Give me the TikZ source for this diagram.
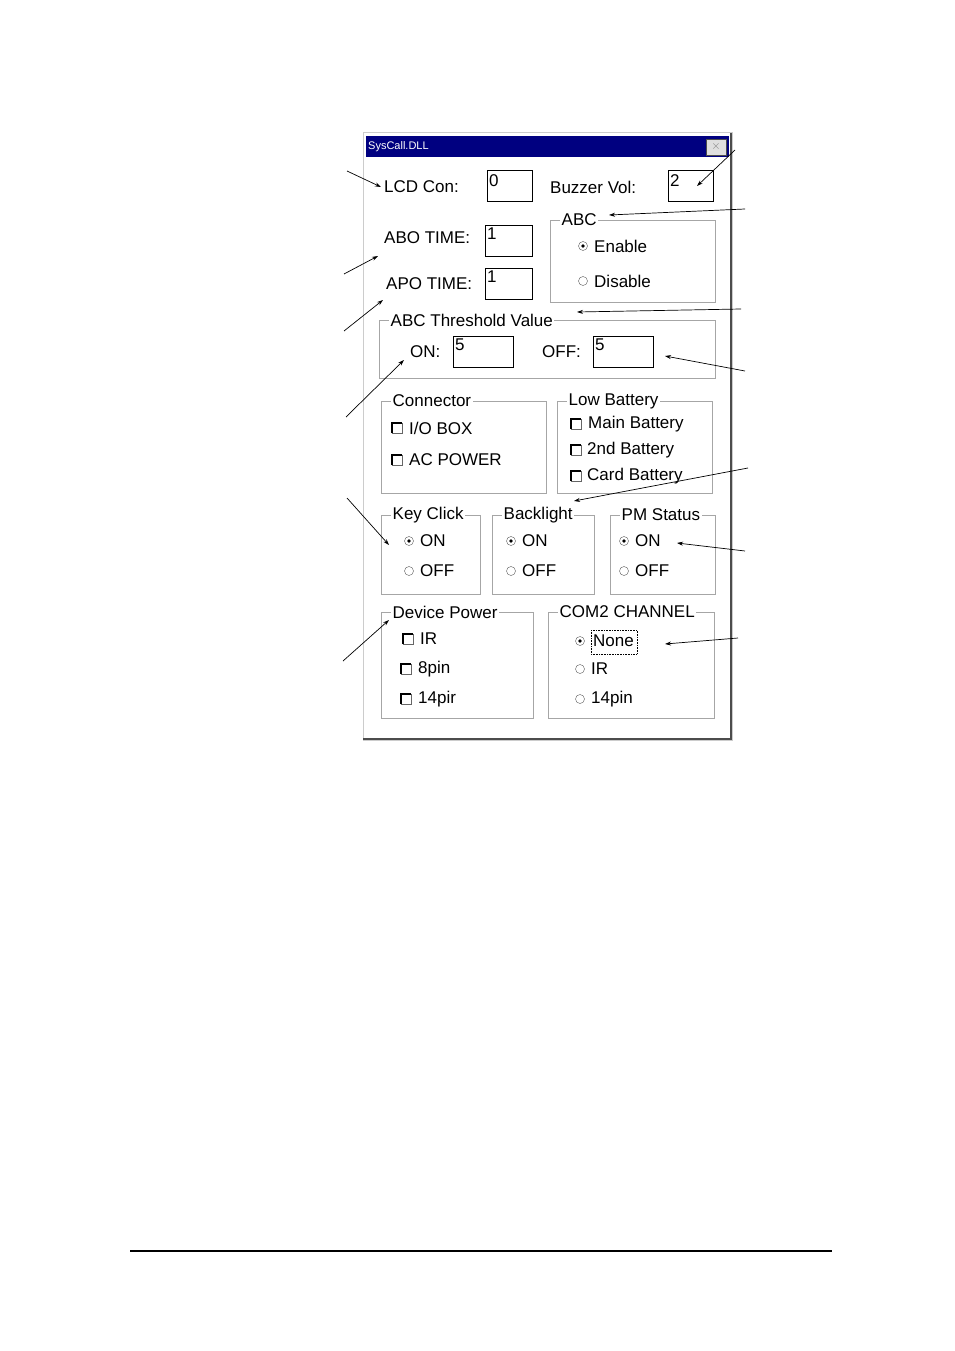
\documentclass[tikz,border=0pt]{standalone}
\usepackage{fontspec}
\setmainfont{Liberation Sans}
\usetikzlibrary{arrows.meta}
\newcommand\grpbox[6]{%
  \draw[grpline] (#1,#2) rectangle (#3,#4);
  \node[grplabel] (#6) at (#1+10,#2) {#5};}
\newcommand\radiobtn[3]{%
  \draw[gray!70!black,fill=white] (#1,#2) circle (4.5);
  \ifnum#3=1 \fill (#1,#2) circle (1.8);\fi}
\newcommand\chkbox[2]{%
  \draw[gray!80!black,fill=white] (#1-5,#2-5) rectangle (#1+5,#2+5);
  \draw[black,line width=1.2] (#1-5,#2+5) -- (#1-5,#2-5) -- (#1+5,#2-5);}
\begin{document}
\begin{tikzpicture}[x=1pt,y=-1pt,
  lbl/.style={anchor=west,inner sep=0,font=\fontsize{17}{17}\selectfont},
  grpline/.style={draw=gray!70,line width=1},
  grplabel/.style={anchor=west,inner sep=1.5,fill=white,font=\fontsize{17}{17}\selectfont},
  editbox/.style={draw,line width=1,fill=white},
  arr/.style={-{Stealth[length=6pt,width=4pt]},line width=0.7}]
\useasboundingbox (0,0) rectangle (954,1351);
% window
\draw[gray!40,line width=1,fill=white] (363,133) rectangle (732,740);
\draw[gray!60!black,line width=2] (731,133) -- (731,739) -- (363,739);
\fill[blue!50!black] (366,136) rectangle (729,157);
\node[anchor=west,text=white,inner sep=0,font=\fontsize{11}{11}\selectfont] (title) at (368,147) {SysCall.DLL};
\draw[gray!60!black,fill=gray!25] (706,139) rectangle (726,155);
\node[inner sep=0,font=\fontsize{12}{12}\selectfont,text=gray] (close) at (716,147) {$\times$};
% top row
\node[lbl] (lcd) at (384,187) {LCD Con:};
\draw[editbox] (487,171) rectangle (532,202);
\node[lbl,anchor=north west] (lcdv) at (489,174) {0};
\node[lbl] (buz) at (550,187) {Buzzer Vol:};
\draw[editbox] (668,171) rectangle (713,202);
\node[lbl,anchor=north west] (buzv) at (670,174) {2};
% ABC
\grpbox{550}{220}{715}{302}{ABC}{abc}
\radiobtn{583}{246}{1}\node[lbl] (en) at (594,246) {Enable};
\radiobtn{583}{281}{0}\node[lbl] (dis) at (594,281) {Disable};
% ABO APO
\node[lbl] (abo) at (384,238) {ABO TIME:};
\draw[editbox] (485,225) rectangle (532,256);
\node[lbl,anchor=north west] (abov) at (487,228) {1};
\node[lbl] (apo) at (386,284) {APO TIME:};
\draw[editbox] (485,268) rectangle (532,299);
\node[lbl,anchor=north west] (apov) at (487,271) {1};
% threshold
\grpbox{379}{320}{715}{378}{ABC Threshold Value}{thr}
\node[lbl] (on) at (410,352) {ON:};
\draw[editbox] (453,336) rectangle (513,367);
\node[lbl,anchor=north west] (onv) at (455,339) {5};
\node[lbl] (off) at (542,352) {OFF:};
\draw[editbox] (593,336) rectangle (653,367);
\node[lbl,anchor=north west] (offv) at (595,339) {5};
% connector
\grpbox{381}{401}{546}{493}{Connector}{con}
\chkbox{397}{428}\node[lbl] (io) at (409,428) {I/O BOX};
\chkbox{397}{460}\node[lbl] (ac) at (409,460) {AC POWER};
% low battery
\grpbox{557}{401}{712}{493}{Low Battery}{low}
\chkbox{576}{424}\node[lbl] (mb) at (588,424) {Main Battery};
\chkbox{576}{450}\node[lbl] (sb) at (587,450) {2nd Battery};
\chkbox{576}{476}\node[lbl] (cb) at (587,476) {Card Battery};
% key click etc
\grpbox{381}{515}{480}{594}{Key Click}{kc}
\radiobtn{409}{541}{1}\node[lbl] (kcon) at (420,541) {ON};
\radiobtn{409}{571}{0}\node[lbl] (kcoff) at (420,571) {OFF};
\grpbox{492}{515}{594}{594}{Backlight}{bl}
\radiobtn{511}{541}{1}\node[lbl] (blon) at (522,541) {ON};
\radiobtn{511}{571}{0}\node[lbl] (bloff) at (522,571) {OFF};
\grpbox{610}{515}{715}{594}{PM Status}{pm}
\radiobtn{624}{541}{1}\node[lbl] (pmon) at (635,541) {ON};
\radiobtn{624}{571}{0}\node[lbl] (pmoff) at (635,571) {OFF};
% device power
\grpbox{381}{612}{533}{718}{Device Power}{dp}
\chkbox{408}{639}\node[lbl] (ir) at (420,639) {IR};
\chkbox{406}{669}\node[lbl] (p8) at (418,669) {8pin};
\chkbox{406}{699}\node[lbl] (p14) at (418,699) {14pir};
% com2
\grpbox{548}{612}{714}{718}{COM2 CHANNEL}{com}
\radiobtn{580}{641}{1}\node[lbl] (none) at (593,641) {None};
\draw[densely dotted,line width=0.6] (591,630) rectangle (637,654);
\radiobtn{580}{669}{0}\node[lbl] (cir) at (591,669) {IR};
\radiobtn{580}{699}{0}\node[lbl] (c14) at (591,699) {14pin};
% arrows
\coordinate (a1) at (347,171); \coordinate (b1) at (381,187);
\coordinate (a2) at (735,150); \coordinate (b2) at (697,186);
\coordinate (a3) at (745,209); \coordinate (b3) at (609,215);
\coordinate (a4) at (344,274); \coordinate (b4) at (378,256);
\coordinate (a5) at (344,331); \coordinate (b5) at (383,300);
\coordinate (a6) at (741,309); \coordinate (b6) at (577,312);
\coordinate (a7) at (745,371); \coordinate (b7) at (665,356);
\coordinate (a8) at (346,417); \coordinate (b8) at (404,360);
\coordinate (a9) at (748,468); \coordinate (b9) at (574,501);
\coordinate (a10) at (347,498); \coordinate (b10) at (389,545);
\coordinate (a11) at (745,551); \coordinate (b11) at (677,543);
\coordinate (a12) at (343,661); \coordinate (b12) at (389,620);
\coordinate (a13) at (738,638); \coordinate (b13) at (665,644);
\foreach \i in {1,...,13} \draw[arr] (a\i) -- (b\i);
% footer
\coordinate (f1) at (130,1251); \coordinate (f2) at (832,1251);
\draw[line width=2] (f1) -- (f2);
\end{tikzpicture}
\end{document}
